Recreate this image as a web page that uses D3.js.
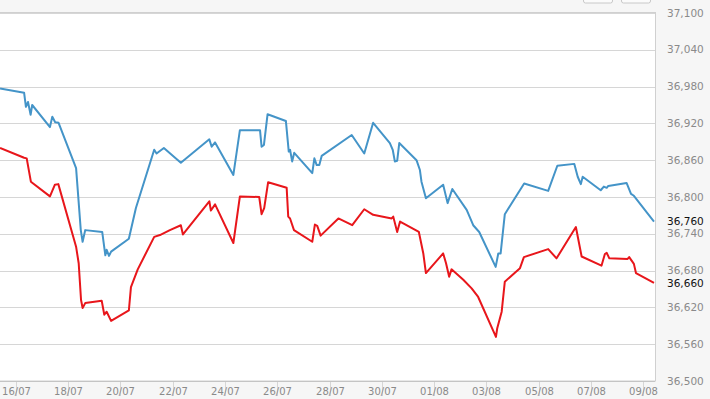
<!DOCTYPE html>
<html>
<head>
<meta charset="utf-8">
<script src="https://cdn.jsdelivr.net/npm/d3@7"></script>
<style>
body { margin: 0; background: #f6f6f6; overflow: hidden; }
text { font-family: "DejaVu Sans", Verdana, sans-serif; }
</style>
</head>
<body>
<div id="chart"></div>
<script>
// days counted from 16/07 00:00
const baseDate = Date.UTC(2019, 6, 16)

const blueDays = [-0.61, 0.31, 0.38, 0.46, 0.56, 0.62, 1.30, 1.39, 1.50, 1.63, 2.30, 2.48, 2.55, 2.65, 3.30, 3.42, 3.47, 3.56, 3.64, 4.32,
  4.59, 5.29, 5.38, 5.66, 6.31, 7.40, 7.49, 7.62, 8.32, 8.57, 9.34, 9.40, 9.49, 9.63, 10.33, 10.44, 10.49, 10.57, 10.65, 11.34,
  11.42, 11.51, 11.61, 11.70, 12.85, 13.33, 13.67, 14.31, 14.42, 14.50, 14.59, 14.67, 15.33, 15.46, 15.52, 15.69, 16.35, 16.52, 16.70, 17.25,
  17.50, 17.73, 18.36, 18.46, 18.55, 18.71, 19.45, 20.37, 20.72, 21.37, 21.50, 21.62, 21.69, 22.38, 22.50, 22.61, 22.67, 23.37, 23.54, 23.65, 24.42]
const blueValues = [36977, 36970, 36947, 36955, 36934, 36950, 36914, 36931, 36922, 36921, 36847, 36746, 36727, 36746, 36743, 36705, 36714, 36704, 36711, 36732,
  36782, 36877, 36871, 36880, 36856, 36894, 36882, 36889, 36836, 36909, 36909, 36882, 36885, 36935, 36924, 36874, 36877, 36858, 36872, 36839,
  36863, 36852, 36852, 36867, 36901, 36871, 36921, 36888, 36877, 36858, 36859, 36888, 36860, 36844, 36825, 36798, 36820, 36790, 36813, 36779,
  36754, 36743, 36686, 36708, 36708, 36772, 36822, 36810, 36851, 36854, 36833, 36821, 36833, 36811, 36817, 36815, 36818, 36823, 36805, 36802, 36760]

const redDays = [-0.61, 0.31, 0.41, 0.57, 1.30, 1.49, 1.62, 2.30, 2.40, 2.49, 2.55, 2.65, 3.28, 3.38, 3.47, 3.64, 4.32, 4.40, 4.66, 5.29,
  5.51, 5.89, 6.31, 6.39, 7.40, 7.46, 7.62, 8.32, 8.57, 9.31, 9.40, 9.50, 9.65, 10.36, 10.42, 10.49, 10.64, 11.34, 11.44, 11.53,
  11.66, 12.34, 12.87, 13.33, 13.67, 14.38, 14.44, 14.59, 14.70, 15.42, 15.59, 15.69, 16.35, 16.46, 16.58, 16.67, 17.12, 17.44, 17.69, 18.37,
  18.42, 18.59, 18.71, 19.29, 19.44, 20.37, 20.69, 21.43, 21.65, 22.41, 22.54, 22.61, 22.71, 23.41, 23.47, 23.65, 23.73, 24.42]
const redValues = [36880, 36864, 36863, 36825, 36801, 36820, 36821, 36719, 36692, 36632, 36619, 36627, 36631, 36608, 36613, 36598, 36615, 36653, 36682, 36735,
  36738, 36746, 36754, 36739, 36793, 36778, 36788, 36725, 36801, 36800, 36772, 36782, 36824, 36815, 36768, 36765, 36746, 36727, 36755, 36753,
  36737, 36765, 36754, 36780, 36771, 36765, 36768, 36743, 36760, 36743, 36708, 36676, 36708, 36692, 36670, 36682, 36665, 36651, 36637, 36572,
  36586, 36613, 36662, 36684, 36702, 36715, 36700, 36751, 36703, 36688, 36707, 36709, 36700, 36699, 36702, 36691, 36676, 36660]

const yTicks = [36500, 36560, 36620, 36680, 36740, 36800, 36860, 36920, 36980, 37040, 37100]
const xTickLabels = ["16/07", "18/07", "20/07", "22/07", "24/07", "26/07", "28/07", "30/07", "01/08", "03/08", "05/08", "07/08", "09/08"]
const xTickDays = [0, 2, 4, 6, 8, 10, 12, 14, 16, 18, 20, 22, 24]

var width = 710
var height = 399
var plotRight = 655
var plotTop = 13
var plotBottom = 381

const toDate = d => new Date(baseDate + d * 864e5)

var x = d3.scaleUtc()
    .domain([toDate(-0.612), toDate(24.42)])
    .range([0, 654])
var y = d3.scaleLinear()
    .domain([36500, 37100])
    .range([plotBottom, plotTop])

var svg = d3.select("#chart")
    .append("svg")
    .attr("width", width)
    .attr("height", height)

// buttons peeking in at the top
svg.selectAll(".btn")
    .data([583, 621])
    .enter()
    .append("rect")
    .attr("x", d => d + 0.5)
    .attr("y", -10)
    .attr("width", 29)
    .attr("height", 13)
    .attr("rx", 2)
    .style("fill", "#fbfbfb")
    .style("stroke", "#c8c8c8")

// white plot area
svg.append("rect")
    .attr("x", -1)
    .attr("y", plotTop - 0.5)
    .attr("width", plotRight + 1.5)
    .attr("height", plotBottom - plotTop + 0.5)
    .style("fill", "#fff")
    .style("stroke", "#d0d0d0")

// horizontal grid lines
svg.append("g")
    .selectAll("line")
    .data(yTicks)
    .enter()
    .append("line")
    .attr("x1", 0)
    .attr("x2", plotRight)
    .attr("y1", d => Math.round(y(d)) + 0.5)
    .attr("y2", d => Math.round(y(d)) + 0.5)
    .style("stroke", d => d == 36500 ? "#c4c4c4" : "#d6d6d6")

// x axis ticks and labels
var xt = svg.append("g")
    .selectAll("g")
    .data(xTickDays)
    .enter()
    .append("g")
    .attr("transform", d => "translate(" + (Math.round(x(toDate(d))) + 0.5) + ",0)")
xt.append("line")
    .attr("y1", plotBottom + 1)
    .attr("y2", plotBottom + 15)
    .style("stroke", "#d6d6d6")
xt.append("text")
    .attr("y", plotBottom + 14)
    .attr("text-anchor", "middle")
    .style("font-size", "10px")
    .style("fill", "#8a8a8a")
    .text((d, i) => xTickLabels[i])

// y labels on the right
svg.append("g")
    .selectAll("text")
    .data(yTicks)
    .enter()
    .append("text")
    .attr("x", 667)
    .attr("y", d => y(d))
    .attr("dy", "0.35em")
    .style("font-size", "10.5px")
    .style("fill", "#8a8a8a")
    .text(d => d3.format(",")(d))

// the lines
var series = [
    { days: blueDays, values: blueValues, color: "#4494c8" },
    { days: redDays, values: redValues, color: "#e8161b" }
]
var line = d3.line()
    .x(d => x(toDate(d[0])))
    .y(d => y(d[1]))

svg.append("g")
    .selectAll("path")
    .data(series)
    .enter()
    .append("path")
    .attr("d", s => line(d3.zip(s.days, s.values)))
    .style("fill", "none")
    .style("stroke", s => s.color)
    .style("stroke-width", 2)
    .style("stroke-linejoin", "round")

// last values
svg.append("g")
    .selectAll("text")
    .data(series)
    .enter()
    .append("text")
    .attr("x", 667)
    .attr("y", s => y(s.values[s.values.length - 1]))
    .attr("dy", "0.35em")
    .style("font-size", "10.5px")
    .style("fill", "#111")
    .text(s => d3.format(",")(s.values[s.values.length - 1]))
</script>
</body>
</html>
